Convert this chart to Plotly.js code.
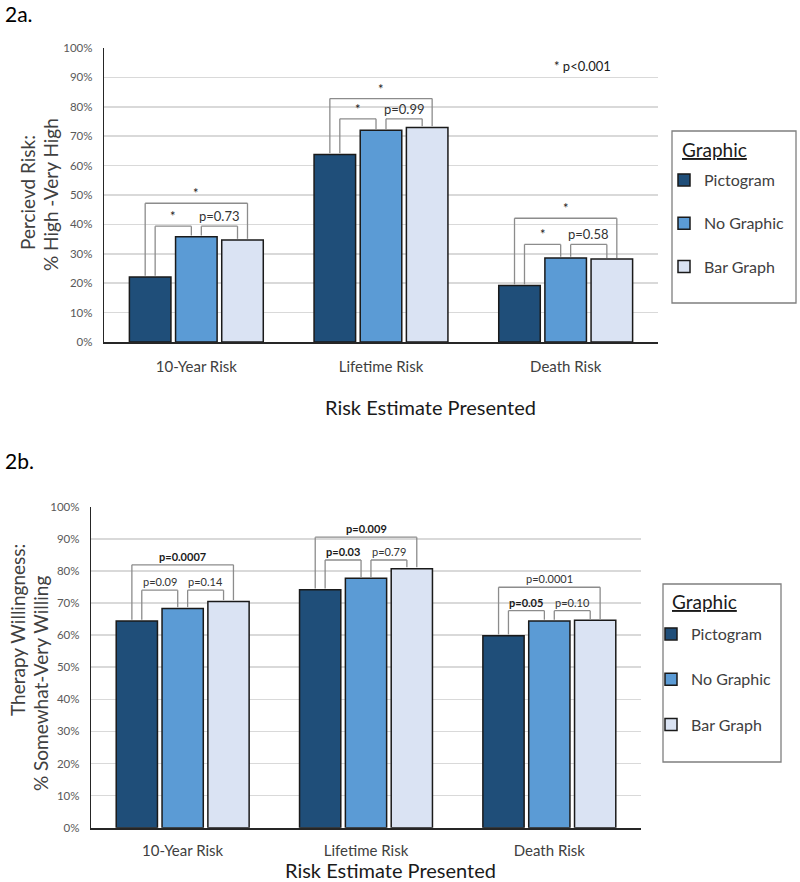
<!DOCTYPE html>
<html>
<head>
<meta charset="utf-8">
<script src="https://cdn.plot.ly/plotly-3.0.1.min.js"></script>
<style>html,body{margin:0;padding:0;background:#fff;}#chart{width:800px;height:882px;}</style>
</head>
<body>
<div id="chart"></div>
<script>
// ---------- data ----------
const categories = ['10-Year Risk', 'Lifetime Risk', 'Death Risk'];
const seriesNames = ['Pictogram', 'No Graphic', 'Bar Graph'];
const seriesColors = ['#1f4e79', '#5b9bd5', '#dae3f3'];

// 2a. Perceived risk: % High - Very High
const riskPictogram = [0.221, 0.638, 0.192];
const riskNoGraphic = [0.358, 0.720, 0.286];
const riskBarGraph  = [0.347, 0.730, 0.282];

// 2b. Therapy willingness: % Somewhat - Very Willing
const willPictogram = [0.644, 0.741, 0.598];
const willNoGraphic = [0.683, 0.777, 0.644];
const willBarGraph  = [0.705, 0.807, 0.646];

// comparisons per category: [Pictogram vs No Graphic, No Graphic vs Bar Graph, Pictogram vs Bar Graph]
const riskCmpLabels = [['*', 'p=0.73', '*'], ['*', 'p=0.99', '*'], ['*', 'p=0.58', '*']];
const riskCmpBold   = [[false, false, false], [false, false, false], [false, false, false]];
const riskCmpLevels = [[0.394, 0.394, 0.472], [0.759, 0.759, 0.828], [0.332, 0.332, 0.421]];

const willCmpLabels = [['p=0.09', 'p=0.14', 'p=0.0007'], ['p=0.03', 'p=0.79', 'p=0.009'], ['p=0.05', 'p=0.10', 'p=0.0001']];
const willCmpBold   = [[false, false, true], [true, false, true], [true, false, false]];
const willCmpLevels = [[0.740, 0.740, 0.819], [0.834, 0.834, 0.905], [0.676, 0.676, 0.749]];

const yTickVals = [0, 0.1, 0.2, 0.3, 0.4, 0.5, 0.6, 0.7, 0.8, 0.9, 1.0];
const legendTitle = 'Graphic';

// ---------- helpers ----------
const W = 800, H = 882;
const px = v => v / W;
const py = v => 1 - v / H;
const FONT = 'Lato, "Open Sans", sans-serif';
const BARGAP = 0.25, GROUPGAP = 0.1;
const slot = (1 - BARGAP) / 3;
const legD = 0.027;

function makeTraces(vals, xa, ya, legendId) {
  return vals.map((v, k) => ({
    type: 'bar', name: seriesNames[k], x: categories, y: v,
    xaxis: xa, yaxis: ya, legend: legendId, legendgroup: legendId + k,
    showlegend: true,
    marker: {color: seriesColors[k], line: {color: '#1a1a1a', width: 1.5}},
    hoverinfo: 'skip'
  }));
}

function makeBrackets(vals, labels, bold, levels, xr, yr, fontSize, shapes, annots) {
  const pairs = [[0, 1], [1, 2], [0, 2]];
  categories.forEach((c, i) => {
    pairs.forEach((p, j) => {
      const a = p[0], b = p[1];
      const outer = (b - a) === 2;
      const xa = i + (a - 1) * slot + (outer ? -legD : legD);
      const xb = i + (b - 1) * slot + (outer ? legD : -legD);
      const lvl = levels[i][j];
      const ya = vals[a][i] + 0.004, yb = vals[b][i] + 0.004;
      const ln = {color: '#8c8c8c', width: 1.3};
      shapes.push({type: 'line', xref: xr, yref: yr, x0: xa, x1: xa, y0: ya, y1: lvl, line: ln});
      shapes.push({type: 'line', xref: xr, yref: yr, x0: xa, x1: xb, y0: lvl, y1: lvl, line: ln});
      shapes.push({type: 'line', xref: xr, yref: yr, x0: xb, x1: xb, y0: yb, y1: lvl, line: ln});
      const txt = bold[i][j] ? '<b>' + labels[i][j] + '</b>' : labels[i][j];
      annots.push({xref: xr, yref: yr, x: (xa + xb) / 2, y: lvl, xanchor: 'center', yanchor: 'bottom', yshift: 0,
        text: txt, showarrow: false,
        font: {family: FONT, size: fontSize, color: bold[i][j] || labels[i][j] === '*' ? '#1a1a1a' : '#333333'}});
    });
  });
}

const riskVals = [riskPictogram, riskNoGraphic, riskBarGraph];
const willVals = [willPictogram, willNoGraphic, willBarGraph];

const data = [].concat(
  makeTraces(riskVals, 'x', 'y', 'legend'),
  makeTraces(willVals, 'x2', 'y2', 'legend2')
);

const shapes = [];
const annotations = [];
makeBrackets(riskVals, riskCmpLabels, riskCmpBold, riskCmpLevels, 'x', 'y', 13, shapes, annotations);
makeBrackets(willVals, willCmpLabels, willCmpBold, willCmpLevels, 'x2', 'y2', 11, shapes, annotations);

// legend frames
const frame = (x0, y0, x1, y1) => ({type: 'rect', xref: 'paper', yref: 'paper',
  x0: px(x0), x1: px(x1), y0: py(y1), y1: py(y0),
  line: {color: '#7f7f7f', width: 1.3}, fillcolor: 'rgba(0,0,0,0)'});
shapes.push(frame(672, 131, 796, 303), frame(663, 584, 781, 762));

const textAnn = (x, y, text, size, color, extra) => Object.assign({
  xref: 'paper', yref: 'paper', x: px(x), y: py(y), text: text, showarrow: false,
  xanchor: 'center', yanchor: 'middle',
  font: {family: FONT, size: size, color: color}
}, extra || {});

annotations.push(
  textAnn(3, 14, '2a.', 21, '#000', {xanchor: 'left'}),
  textAnn(3, 461, '2b.', 21, '#000', {xanchor: 'left'}),
  textAnn(582, 66, '* p<0.001', 13, '#1a1a1a'),
  textAnn(430, 407, 'Risk Estimate Presented', 20, '#1a1a1a'),
  textAnn(390, 870, 'Risk Estimate Presented', 20, '#1a1a1a'),
  textAnn(27, 193, 'Percievd Risk:', 19, '#404040', {textangle: -90}),
  textAnn(50, 195, '% High -Very High', 19, '#404040', {textangle: -90}),
  textAnn(17, 630, 'Therapy Willingness:', 19, '#404040', {textangle: -90}),
  textAnn(40, 684, '% Somewhat-Very Willing', 19, '#404040', {textangle: -90}),
  textAnn(680, 149, '<u>' + legendTitle + '</u>', 19, '#1a1a1a', {xanchor: 'left'}),
  textAnn(670, 601, '<u>' + legendTitle + '</u>', 19, '#1a1a1a', {xanchor: 'left'})
);

const xCommon = {
  type: 'category', showline: true, linecolor: '#262626', linewidth: 2,
  ticks: '', showgrid: false, zeroline: false, fixedrange: true,
  tickfont: {family: FONT, size: 15, color: '#404040'}
};
const yCommon = {
  range: [0, 1], tickvals: yTickVals, tickformat: '.0%',
  showline: true, linecolor: '#262626', linewidth: 1.2,
  showgrid: true, gridcolor: '#d9d9d9', gridwidth: 1.5, zeroline: false,
  ticks: '', ticklabelstandoff: 8, fixedrange: true,
  tickfont: {family: FONT, size: 11.5, color: '#595959'}
};

const legendCommon = {
  bgcolor: 'rgba(0,0,0,0)', borderwidth: 0,
  xanchor: 'left', yanchor: 'top', traceorder: 'grouped', tracegroupgap: 19.5,
  itemwidth: 30, itemclick: false, itemdoubleclick: false,
  font: {family: FONT, size: 16, color: '#404040'}
};

const layout = {
  width: W, height: H,
  margin: {l: 0, r: 0, t: 0, b: 0},
  paper_bgcolor: '#ffffff', plot_bgcolor: '#ffffff',
  barmode: 'group', bargap: BARGAP, bargroupgap: GROUPGAP,
  font: {family: FONT},
  xaxis: Object.assign({}, xCommon, {domain: [px(104), px(658)], anchor: 'y', ticklabelstandoff: 10}),
  yaxis: Object.assign({}, yCommon, {domain: [py(342), py(48)], anchor: 'x'}),
  xaxis2: Object.assign({}, xCommon, {domain: [px(91), px(641)], anchor: 'y2', ticklabelstandoff: 8}),
  yaxis2: Object.assign({}, yCommon, {domain: [py(827.7), py(506.7)], anchor: 'x2'}),
  legend: Object.assign({}, legendCommon, {x: px(664), y: py(163)}),
  legend2: Object.assign({}, legendCommon, {x: px(651), y: py(617), tracegroupgap: 21.5}),
  shapes: shapes,
  annotations: annotations,
  showlegend: true
};

Plotly.newPlot('chart', data, layout, {displayModeBar: false, staticPlot: true});
</script>
</body>
</html>
